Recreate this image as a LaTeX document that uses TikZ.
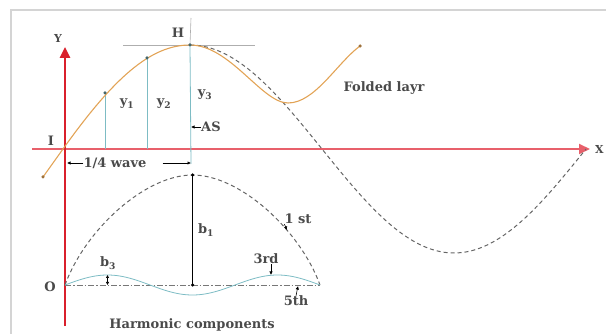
\documentclass[tikz,border=0pt]{standalone}
\usepackage{fontspec}
\setmainfont{DejaVu Serif}
\usetikzlibrary{arrows.meta,positioning}
\definecolor{AxisRed}{HTML}{D9202C}
\definecolor{AxisPink}{HTML}{E8606B}
\definecolor{Fold}{HTML}{E2A356}
\definecolor{Guide}{HTML}{7DBCC4}
\definecolor{Ink}{HTML}{4A4A4A}
\definecolor{Frame}{HTML}{D4D4D4}

\begin{document}
\begin{tikzpicture}[
  x=1pt,y=-1pt,
  lbl/.style={font=\fontsize{13}{15}\selectfont\bfseries,text=Ink,inner sep=0pt},
  axlbl/.style={lbl,font=\fontsize{11}{13}\selectfont\bfseries},
  axisline/.style={-{Triangle[length=11pt,width=10pt]},line width=2pt},
  guide/.style={draw=Guide,line width=0.8pt},
  wave/.style={draw=Ink!85,line width=1pt,dash pattern=on 4pt off 3pt},
  pointer/.style={-{Latex[length=3.5pt,width=3.5pt]},line width=0.6pt,black},
  knot/.style={circle,fill=#1,inner sep=0pt,minimum size=3.5pt}
]
\useasboundingbox (0,0) rectangle (606,334);
\draw[Frame,line width=1.5pt] (11,334) -- (11,10) -- (606,10);

% key points
\coordinate (origin) at (63,149);
\coordinate (top) at (190,45);
\coordinate (crest) at (191,164);
\coordinate (p1) at (105,93);
\coordinate (p2) at (147,58);
\coordinate (xstart) at (32,149);
\coordinate (xend) at (590,149);
\coordinate (ybot) at (65,326);
\coordinate (ytop) at (65,47);

% axes
\draw[axisline,AxisPink] (xstart) -- (xend);
\draw[axisline,AxisRed,line width=2.6pt] (ybot) -- (ytop);
\node[axlbl,right=5pt of xend] (xlab) {X};
\node[axlbl] (ylab) at (58,38) {Y};

% crest lines and ordinates
\draw[Ink!45,line width=0.6pt] (123,45) -- (255,45);
\draw[Ink!45,line width=0.6pt] (191,18) -- (top);
\draw[guide] (top) -- (crest);
\draw[guide] (p1) -- (p1 |- origin);
\draw[guide] (p2) -- (p2 |- origin);

% folded layer and its sine
\draw[wave] plot[domain=0:270,samples=90,smooth] ({190+\x/90*132},{149-104*cos(\x)});
\draw[Fold,line width=1.1pt] (43,177) -- (origin)
  .. controls (113,79) and (150,45) .. (top)
  .. controls (230,45) and (262,103) .. (288,103)
  .. controls (315,103) and (337,63) .. (360,46);
\node[knot=Fold!70!black] (e1) at (43,177) {};
\node[knot=Fold!70!black] (e2) at (360,46) {};
\node[knot=Guide!55!black] (d1) at (p1) {};
\node[knot=Guide!55!black] (d2) at (p2) {};
\node[knot=Guide!55!black] (d3) at (top) {};

\node[lbl] (hlab) at (178,33) {H};
\node[lbl] (ilab) at (51,141) {I};
\node[lbl] (y1lab) at (127,104) {y\textsubscript{1}};
\node[lbl] (y2lab) at (164,104) {y\textsubscript{2}};
\node[lbl] (y3lab) at (205,95) {y\textsubscript{3}};
\node[lbl,anchor=west] (aslab) at (201,127) {AS};
\draw[pointer] (aslab.west) -- (aslab.west -| crest);
\node[lbl] (foldlab) at (384,88) {Folded layr};

\node[lbl] (qlab) at (115,163) {1/4 wave};
\draw[pointer,shorten >=2pt] (qlab.west) -- (qlab.west -| ytop);
\draw[pointer] ([xshift=16pt]qlab.east) -- (qlab.east -| crest);

% harmonic components
\coordinate (base) at (65,285);
\coordinate (baseend) at (320,285);
\coordinate (peak1) at (192.5,175);
\coordinate (peak3) at (107.5,275);
\coordinate (h1) at (287,230);
\coordinate (h3) at (271,275);
\coordinate (h5) at (298,286);
\draw[Ink!75,line width=0.8pt,dash pattern=on 6pt off 2pt on 1.5pt off 2pt] (base) -- (baseend);
\draw[wave] (base) .. controls (85,230) and (145,175) .. (peak1)
  .. controls (240,175) and (300,230) .. (baseend);
\draw[guide] plot[domain=65:320,samples=90,smooth] (\x,{285-10*sin(540/255*(\x-65))});
\draw[black,line width=1pt] (peak1) -- (peak1 |- base);
\node[knot=black] (t1) at (peak1) {};
\node[knot=black] (t2) at (peak1 |- base) {};
\draw[{Latex[length=3pt,width=3.5pt]}-{Latex[length=3pt,width=3.5pt]},line width=0.7pt] (peak3) -- (peak3 |- base);

\node[lbl] (olab) at (50,287) {O};
\node[lbl] (b1lab) at (206,230) {b\textsubscript{1}};
\node[lbl] (b3lab) at (108,263) {b\textsubscript{3}};
\node[lbl] (stlab) at (298,219) {1 st};
\draw[pointer] (stlab.south west) -- (h1);
\node[lbl] (thirdlab) at (266,259) {3rd};
\draw[pointer] (thirdlab.south -| h3) -- (h3);
\node[lbl] (fifthlab) at (296,301) {5th};
\draw[pointer] (fifthlab.north) -- (h5);
\node[lbl] (harmlab) at (192,325) {Harmonic components};
\end{tikzpicture}
\end{document}
